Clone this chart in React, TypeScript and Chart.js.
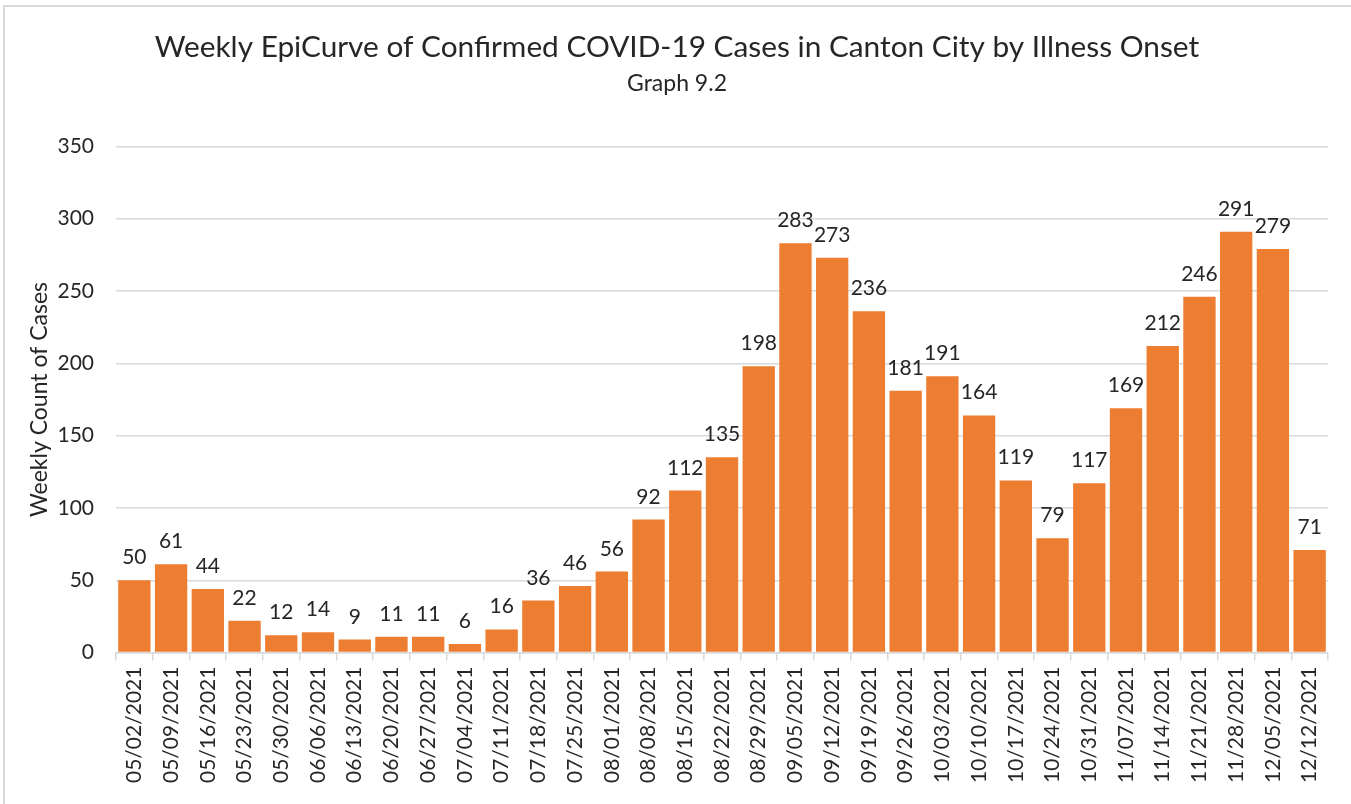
import React, { useEffect, useRef } from "react";
import { Chart, registerables } from "chart.js";

Chart.register(...registerables);

const weeks = [
  "05/02/2021","05/09/2021","05/16/2021","05/23/2021","05/30/2021","06/06/2021","06/13/2021",
  "06/20/2021","06/27/2021","07/04/2021","07/11/2021","07/18/2021","07/25/2021","08/01/2021",
  "08/08/2021","08/15/2021","08/22/2021","08/29/2021","09/05/2021","09/12/2021","09/19/2021",
  "09/26/2021","10/03/2021","10/10/2021","10/17/2021","10/24/2021","10/31/2021","11/07/2021",
  "11/14/2021","11/21/2021","11/28/2021","12/05/2021","12/12/2021",
];
const cases = [
  50, 61, 44, 22, 12, 14, 9, 11, 11, 6, 16, 36, 46, 56, 92, 112, 135, 198, 283, 273, 236,
  181, 191, 164, 119, 79, 117, 169, 212, 246, 291, 279, 71,
];
const chartTitle = "Weekly EpiCurve of Confirmed COVID-19 Cases in Canton City by Illness Onset";
const chartSubtitle = "Graph 9.2";
const yAxisTitle = "Weekly Count of Cases";

const FONT = "Lato, 'Open Sans', sans-serif";
const TEXT = "#262626";

const valueLabels = {
  id: "valueLabels",
  afterDatasetsDraw(chart: any) {
    const ctx = chart.ctx;
    const meta = chart.getDatasetMeta(0);
    ctx.save();
    ctx.font = `21px ${FONT}`;
    ctx.fillStyle = TEXT;
    ctx.textAlign = "center";
    ctx.textBaseline = "alphabetic";
    meta.data.forEach((bar: any, i: number) => {
      ctx.fillText(String(cases[i]), bar.x, bar.y - 16);
    });
    ctx.restore();
  },
};

export default function App() {
  const ref = useRef<HTMLCanvasElement>(null);
  useEffect(() => {
    if (!ref.current) return;
    const chart = new Chart(ref.current, {
      type: "bar",
      data: {
        labels: weeks,
        datasets: [
          {
            data: cases,
            backgroundColor: "#ED7D31",
            barPercentage: 0.88,
            categoryPercentage: 1.0,
          },
        ],
      },
      options: {
        animation: false,
        responsive: false,
        maintainAspectRatio: false,
        layout: { padding: { left: 26, right: 23, top: 10, bottom: 15 } },
        plugins: {
          legend: { display: false },
          tooltip: { enabled: false },
          title: {
            display: true,
            text: chartTitle,
            color: TEXT,
            font: { family: FONT, size: 29.8, weight: "normal" },
            padding: { top: 20, bottom: 4 },
          },
          subtitle: {
            display: true,
            text: chartSubtitle,
            color: TEXT,
            font: { family: FONT, size: 23, weight: "normal" },
            padding: { top: 0, bottom: 49 },
          },
        },
        scales: {
          x: {
            offset: true,
            grid: {
              offset: true,
              drawOnChartArea: false,
              drawTicks: true,
              tickLength: 8,
              color: "#D9D9D9",
              lineWidth: 1.5,
            },
            border: { color: "#D9D9D9", width: 1.5 },
            ticks: {
              color: TEXT,
              font: { family: FONT, size: 21 },
              minRotation: 90,
              maxRotation: 90,
              autoSkip: false,
              padding: 6,
            },
          },
          y: {
            min: 0,
            max: 350,
            afterFit: (scale: any) => {
              scale.width = 90;
            },
            ticks: {
              stepSize: 50,
              color: TEXT,
              font: { family: FONT, size: 21 },
              padding: 22,
            },
            grid: { color: "#D9D9D9", drawTicks: false, lineWidth: 1.5 },
            border: { display: false },
            title: {
              display: true,
              text: yAxisTitle,
              color: TEXT,
              font: { family: FONT, size: 23 },
              padding: { top: 0, bottom: 0 },
            },
          },
        },
      },
      plugins: [valueLabels],
    });
    return () => chart.destroy();
  }, []);
  return (
    <div style={{ position: "fixed", left: 0, top: 0, width: 1351, height: 804, background: "#fff" }}>
      <div
        style={{
          position: "absolute",
          left: 3,
          top: 5,
          width: 1360,
          height: 810,
          borderLeft: "2px solid #D9D9D9",
          borderTop: "2px solid #D9D9D9",
        }}
      />
      <canvas ref={ref} width={1351} height={804} style={{ position: "absolute", left: 0, top: 0 }} />
    </div>
  );
}
